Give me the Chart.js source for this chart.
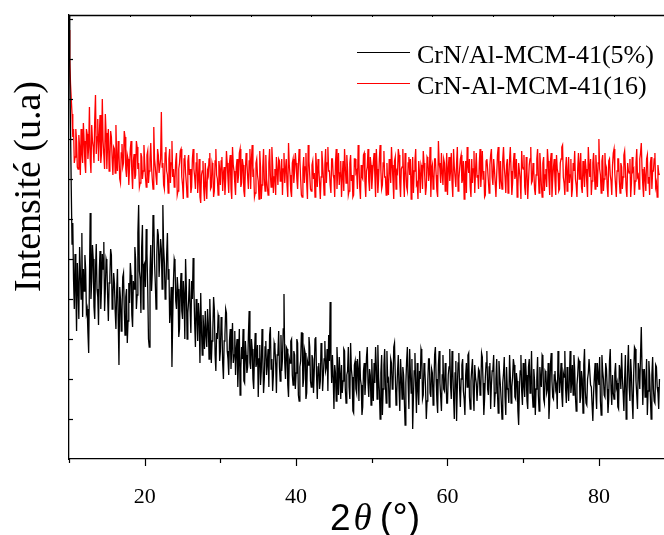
<!DOCTYPE html>
<html>
<head>
<meta charset="utf-8">
<script src="https://cdn.jsdelivr.net/npm/chart.js@4.4.1/dist/chart.umd.min.js"></script>
<style>
  html, body { margin: 0; padding: 0; background: #fff; }
</style>
</head>
<body>
<canvas id="xrdChart" width="664" height="535"></canvas>
<script>
// ------------------------------------------------------------
// DATA (2theta step 0.1 deg, one row = 2 deg)
// ------------------------------------------------------------
const seriesNames = ["CrN/Al-MCM-41(5%)", "CrN-Al-MCM-41(16)"];
const seriesColors = ["#000000", "#ff0000"];
const thetaStart = 10;
const thetaStep = 0.1;
const xTickLabels = [20, 40, 60, 80];
const yTickValues = [40, 80, 120, 160, 200, 240, 280, 320, 360, 400, 440];

// CrN/Al-MCM-41(5%)
const blackCounts = [
  444, 392, 330, 270, 215, 236, 180, 150, 205, 170, 128, 196, 172, 140, 212, 188, 160, 226, 142, 190,
  168, 204, 190, 146, 150, 126, 106, 178, 246, 160, 178, 214, 200, 152, 140, 188, 215, 170, 162, 134,
  188, 208, 150, 172, 205, 190, 217, 148, 170, 200, 196, 164, 138, 176, 182, 210, 204, 150, 160, 186,
  176, 148, 130, 168, 190, 140, 94, 172, 160, 128, 148, 182, 186, 150, 124, 162, 170, 116, 138, 176,
  156, 196, 184, 144, 132, 178, 170, 212, 200, 150, 164, 226, 254, 188, 180, 146, 212, 234, 150, 194,
  196, 172, 230, 206, 170, 120, 112, 188, 214, 168, 186, 244, 240, 196, 176, 150, 204, 230, 224, 182,
  182, 220, 210, 170, 254, 212, 196, 160, 168, 204, 226, 180, 190, 136, 150, 172, 92, 140, 178, 200,
  196, 158, 150, 182, 170, 122, 130, 168, 186, 148, 140, 178, 164, 120, 200, 172, 120, 146, 158, 180,
  150, 126, 178, 160, 201, 170, 136, 112, 160, 148, 118, 156, 142, 96, 166, 130, 104, 144, 130, 110,
  148, 124, 112, 150, 136, 100, 160, 132, 96, 118, 128, 162, 150, 104, 88, 126, 120, 144, 140, 98,
  108, 142, 132, 96, 80, 118, 124, 150, 146, 108, 100, 84, 118, 130, 90, 112, 136, 96, 104, 128,
  84, 110, 120, 72, 98, 130, 64, 90, 112, 100, 130, 78, 76, 118, 104, 86, 92, 124, 148, 96,
  90, 120, 110, 80, 70, 104, 126, 92, 96, 114, 62, 100, 114, 74, 88, 130, 104, 66, 80, 112,
  118, 84, 96, 110, 72, 124, 132, 90, 100, 68, 84, 116, 112, 96, 66, 104, 106, 128, 92, 78,
  124, 88, 100, 130, 165, 96, 80, 112, 110, 74, 62, 100, 96, 118, 120, 84, 74, 108, 104, 70,
  86, 120, 116, 64, 58, 92, 98, 126, 126, 72, 80, 110, 106, 60, 66, 98, 94, 122, 112, 78,
  72, 104, 100, 66, 88, 120, 122, 84, 60, 92, 96, 70, 78, 116, 110, 68, 84, 100, 118, 88,
  92, 110, 68, 124, 98, 157, 100, 76, 104, 82, 50, 94, 86, 58, 112, 90, 64, 102, 86, 60,
  94, 66, 78, 110, 108, 70, 56, 84, 88, 112, 72, 60, 116, 90, 82, 48, 46, 94, 98, 70,
  66, 100, 90, 58, 108, 80, 74, 44, 52, 88, 96, 64, 80, 102, 112, 76, 62, 90, 84, 54,
  100, 72, 58, 96, 76, 112, 92, 60, 114, 82, 68, 40, 86, 104, 44, 70, 94, 110, 74, 56,
  108, 78, 80, 52, 62, 100, 96, 70, 72, 112, 116, 84, 54, 66, 88, 104, 70, 48, 100, 82,
  60, 92, 84, 58, 34, 76, 98, 112, 76, 50, 110, 86, 66, 100, 30, 62, 88, 106, 72, 46,
  96, 70, 54, 88, 80, 110, 106, 60, 64, 96, 90, 72, 40, 58, 78, 100, 100, 66, 62, 90,
  86, 54, 70, 104, 112, 80, 58, 46, 94, 108, 76, 62, 48, 84, 104, 70, 68, 96, 82, 56,
  56, 84, 92, 110, 74, 60, 108, 88, 62, 40, 86, 98, 38, 72, 96, 106, 70, 52, 80, 94,
  100, 68, 60, 44, 84, 96, 72, 104, 106, 62, 50, 78, 90, 100, 66, 48, 94, 82, 76, 58,
  58, 90, 88, 64, 70, 106, 102, 76, 44, 60, 82, 96, 108, 70, 64, 92, 96, 50, 74, 88,
  90, 104, 52, 66, 80, 100, 66, 46, 98, 84, 72, 58, 40, 76, 86, 102, 62, 44, 92, 70,
  70, 56, 104, 82, 56, 72, 82, 100, 94, 62, 60, 86, 78, 48, 34, 70, 88, 104, 68, 54,
  96, 74, 62, 100, 84, 58, 50, 92, 100, 66, 74, 108, 66, 52, 90, 78, 44, 70, 80, 102,
  64, 48, 92, 80, 72, 104, 102, 60, 56, 88, 86, 66, 70, 96, 40, 58, 94, 106, 78, 62,
  60, 84, 88, 70, 74, 50, 108, 90, 66, 78, 96, 64, 52, 86, 82, 108, 70, 56, 92, 74,
  58, 80, 108, 66, 76, 94, 64, 104, 90, 62, 48, 74, 84, 100, 98, 56, 62, 88, 80, 46,
  94, 110, 68, 56, 54, 80, 86, 100, 100, 74, 72, 54, 38, 66, 82, 96, 66, 50, 96, 84,
  74, 102, 58, 44, 104, 88, 80, 64, 62, 96, 90, 70, 46, 60, 98, 110, 70, 54, 84, 66,
  60, 86, 96, 72, 76, 52, 50, 94, 88, 70, 106, 82, 66, 48, 80, 104, 40, 62, 92, 114,
  72, 58, 100, 84, 58, 40, 86, 112, 110, 78, 64, 50, 96, 88, 70, 104, 132, 90, 54, 80,
  90, 62, 76, 100, 44, 68, 98, 84, 62, 40, 84, 102, 70, 58, 56, 94, 92, 72, 66, 50,
  80
];

// CrN-Al-MCM-41(16)
const redCounts = [
  429, 400, 375, 360, 345, 322, 330, 296, 302, 330, 318, 292, 290, 324, 312, 284, 330, 306, 296, 336,
  318, 296, 286, 330, 325, 300, 312, 352, 300, 286, 334, 318, 312, 296, 340, 364, 305, 322, 340, 298,
  322, 344, 296, 306, 360, 318, 318, 290, 345, 326, 290, 316, 330, 288, 300, 328, 322, 300, 284, 312,
  310, 286, 334, 300, 288, 318, 305, 280, 276, 306, 315, 292, 296, 328, 322, 290, 282, 304, 300, 274,
  292, 310, 318, 286, 270, 298, 305, 280, 284, 318, 312, 290, 296, 272, 276, 306, 302, 280, 288, 314,
  296, 282, 272, 304, 308, 276, 288, 300, 316, 292, 280, 270, 332, 300, 292, 282, 274, 310, 304, 286,
  286, 300, 347, 292, 296, 274, 270, 306, 312, 288, 284, 266, 300, 310, 276, 296, 318, 282, 290, 272,
  280, 298, 306, 264, 268, 290, 296, 308, 310, 282, 274, 260, 300, 304, 286, 276, 262, 298, 304, 284,
  290, 266, 272, 300, 310, 290, 282, 270, 296, 306, 266, 280, 300, 262, 256, 284, 288, 298, 270, 258,
  296, 274, 260, 288, 284, 300, 306, 270, 272, 296, 292, 262, 268, 298, 310, 284, 280, 264, 298, 290,
  274, 298, 302, 268, 286, 292, 264, 280, 308, 296, 280, 266, 296, 304, 270, 260, 312, 294, 288, 276,
  264, 292, 300, 276, 284, 306, 310, 272, 276, 300, 294, 268, 262, 288, 306, 296, 282, 270, 298, 310,
  270, 300, 314, 282, 286, 262, 266, 296, 300, 284, 278, 260, 308, 292, 260, 274, 292, 310, 280, 268,
  304, 280, 272, 264, 296, 310, 284, 272, 312, 294, 266, 282, 290, 264, 302, 288, 274, 300, 298, 278,
  282, 300, 264, 290, 306, 276, 290, 300, 274, 262, 316, 294, 284, 268, 262, 296, 300, 276, 288, 306,
  296, 280, 270, 292, 310, 300, 280, 264, 262, 290, 302, 276, 292, 306, 276, 260, 314, 298, 284, 270,
  268, 294, 298, 280, 286, 262, 306, 292, 272, 300, 290, 276, 260, 282, 308, 296, 282, 264, 294, 310,
  276, 296, 312, 288, 288, 274, 266, 300, 300, 284, 280, 262, 296, 310, 270, 288, 306, 274, 286, 298,
  262, 282, 298, 268, 310, 292, 276, 304, 290, 264, 268, 296, 304, 278, 284, 262, 264, 300, 300, 286,
  288, 270, 314, 296, 272, 260, 294, 282, 280, 304, 306, 276, 262, 288, 292, 310, 278, 268, 302, 294,
  270, 284, 296, 306, 284, 262, 310, 290, 266, 280, 300, 314, 288, 270, 274, 296, 308, 282, 282, 264,
  296, 272, 264, 300, 290, 276, 312, 294, 278, 260, 298, 302, 270, 288, 286, 310, 304, 276, 262, 290,
  292, 310, 280, 262, 306, 290, 272, 268, 296, 302, 284, 300, 260, 278, 302, 266, 288, 298, 310, 274,
  276, 260, 298, 286, 266, 294, 290, 270, 308, 296, 282, 264, 272, 302, 300, 278, 286, 312, 262, 290,
  294, 270, 278, 300, 300, 284, 268, 262, 318, 296, 290, 276, 306, 286, 274, 300, 296, 268, 284, 306,
  264, 290, 302, 278, 288, 306, 276, 262, 310, 292, 282, 272, 296, 312, 268, 280, 290, 300, 304, 276,
  280, 298, 260, 284, 298, 266, 312, 294, 286, 300, 272, 262, 300, 276, 290, 308, 266, 288, 306, 282,
  284, 270, 296, 310, 272, 288, 308, 280, 288, 262, 264, 298, 300, 290, 278, 266, 294, 304, 310, 282,
  274, 300, 290, 276, 262, 284, 304, 312, 286, 270, 298, 278, 270, 300, 312, 292, 282, 266, 294, 300,
  266, 282, 300, 312, 288, 264, 276, 296, 306, 280, 284, 300, 262, 272, 296, 288, 280, 260, 308, 292,
  290, 304, 272, 264, 302, 288, 260, 278, 294, 300, 312, 276, 278, 296, 288, 270, 264, 284, 300, 310,
  284, 266, 306, 292, 274, 262, 296, 302, 268, 284, 290, 272, 310, 298, 280, 264, 298, 306, 262, 280,
  292, 300, 278, 264, 304, 290, 286, 268, 270, 296, 300, 312, 314, 282, 276, 264, 290, 302, 268, 286,
  302, 276, 284, 300, 262, 270, 296, 288, 308, 280, 274, 262, 290, 306, 280, 294, 306, 272, 266, 298,
  288, 272, 300, 290, 276, 262, 312, 294, 282, 300, 264, 278, 296, 306, 286, 270, 304, 288, 272, 296,
  320, 290, 284, 266, 298, 304, 268, 280, 306, 286, 290, 272, 262, 298, 300, 284, 278, 264, 294, 306,
  310, 286, 274, 262, 288, 300, 300, 278, 266, 296, 292, 270, 282, 304, 308, 290, 270, 262, 296, 288,
  286, 300, 262, 276, 302, 288, 290, 264, 278, 296, 310, 282, 284, 270, 300, 306, 316, 290, 274, 262,
  292, 282, 268, 300, 304, 276, 282, 264, 296, 302, 270, 288, 288, 300, 306, 272, 276, 262, 294, 286,
  284
];

function toPoints(counts) {
  return counts.map((y, i) => ({ x: thetaStart + i * thetaStep, y: y }));
}

// ------------------------------------------------------------
// FRAME, TICKS, LEGEND AND TITLES (origin-style decorations)
// ------------------------------------------------------------
const framePlugin = {
  id: "frame",
  afterDraw(chart) {
    const ctx = chart.ctx;
    const area = chart.chartArea;
    const xs = chart.scales.x;
    const ys = chart.scales.y;

    ctx.save();
    ctx.strokeStyle = "#000";
    ctx.lineWidth = 1.3;

    // top border
    ctx.beginPath();
    ctx.moveTo(area.left, area.top + 0.5);
    ctx.lineTo(area.right, area.top + 0.5);
    ctx.stroke();

    // bottom ticks (outside)
    ctx.lineWidth = 1.2;
    for (let v = 10; v <= 80; v += 10) {
      const px = Math.round(xs.getPixelForValue(v)) + 0.5;
      const len = xTickLabels.includes(v) ? 7 : 4;
      ctx.beginPath();
      ctx.moveTo(px, area.bottom);
      ctx.lineTo(px, area.bottom + len);
      ctx.stroke();
    }

    // top ticks (tiny, inside)
    ctx.lineWidth = 1;
    for (let v = 18; v <= 88; v += 8) {
      const px = Math.round(xs.getPixelForValue(v)) + 0.5;
      ctx.beginPath();
      ctx.moveTo(px, area.top);
      ctx.lineTo(px, area.top + 2);
      ctx.stroke();
    }

    // left ticks (inside)
    ctx.lineWidth = 1.2;
    yTickValues.forEach(v => {
      const py = Math.round(ys.getPixelForValue(v)) + 0.5;
      ctx.beginPath();
      ctx.moveTo(area.left, py);
      ctx.lineTo(area.left + 4, py);
      ctx.stroke();
    });

    // legend
    ctx.font = "26px 'Liberation Serif'";
    ctx.textAlign = "left";
    ctx.textBaseline = "alphabetic";
    const legendRows = [52.5, 83.5];
    seriesNames.forEach((name, i) => {
      ctx.strokeStyle = seriesColors[i];
      ctx.lineWidth = 1;
      ctx.beginPath();
      ctx.moveTo(357, legendRows[i]);
      ctx.lineTo(410, legendRows[i]);
      ctx.stroke();
      ctx.fillStyle = "#000";
      ctx.fillText(name, 417, legendRows[i] + 10.5);
    });

    // y title
    ctx.save();
    ctx.translate(40, 186.5);
    ctx.rotate(-Math.PI / 2);
    ctx.font = "38px 'Liberation Serif'";
    ctx.textAlign = "center";
    ctx.fillStyle = "#000";
    ctx.fillText("Intensité (u.a)", 0, 0);
    ctx.restore();

    // x title: 2θ(°)
    const parts = [
      { t: "2", f: "37px 'Liberation Sans'", gap: 3 },
      { t: "θ", f: "italic 37px 'Liberation Serif'", gap: 8 },
      { t: "(°)", f: "38px 'Liberation Sans'", gap: 0 }
    ];
    let tx = 330;
    ctx.fillStyle = "#000";
    parts.forEach(p => {
      ctx.font = p.f;
      ctx.fillText(p.t, tx, 530);
      tx += ctx.measureText(p.t).width + p.gap;
    });

    ctx.restore();
  }
};

const Chart = window.Chart;

new Chart(document.getElementById("xrdChart").getContext("2d"), {
  type: "line",
  data: {
    datasets: [
      {
        label: seriesNames[0],
        data: toPoints(blackCounts),
        borderColor: seriesColors[0],
        borderWidth: 1.3,
        pointRadius: 0,
        tension: 0,
        fill: false
      },
      {
        label: seriesNames[1],
        data: toPoints(redCounts),
        borderColor: seriesColors[1],
        borderWidth: 1.3,
        pointRadius: 0,
        tension: 0,
        fill: false
      }
    ]
  },
  options: {
    responsive: false,
    animation: false,
    devicePixelRatio: 1,
    layout: { padding: { top: 15, right: 0, left: 0, bottom: 0 } },
    plugins: {
      legend: { display: false },
      tooltip: { enabled: false }
    },
    scales: {
      x: {
        type: "linear",
        min: 10,
        max: 88.6,
        grid: { display: false },
        border: { display: true, color: "#000", width: 1.3 },
        ticks: {
          stepSize: 10,
          includeBounds: false,
          autoSkip: false,
          maxRotation: 0,
          padding: 17,
          color: "#000",
          font: { family: "'Liberation Serif'", size: 22 },
          callback: v => (xTickLabels.includes(v) ? String(v) : "")
        },
        afterFit: s => { s.height = 76; }
      },
      y: {
        min: 0,
        max: 444,
        grid: { display: false },
        border: { display: true, color: "#000", width: 1.3 },
        ticks: { display: false },
        afterFit: s => { s.width = 69; }
      }
    }
  },
  plugins: [framePlugin]
});
</script>
</body>
</html>
